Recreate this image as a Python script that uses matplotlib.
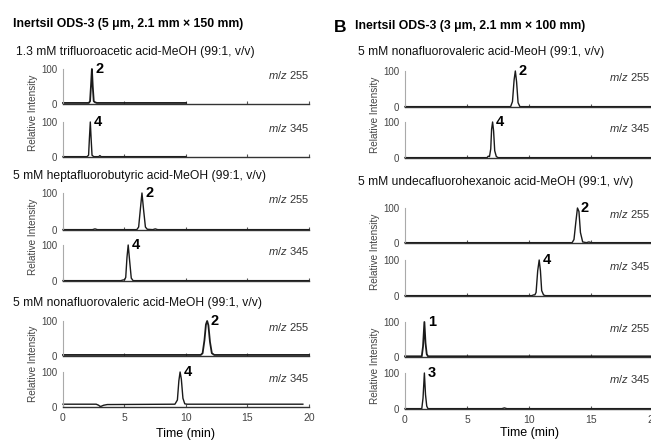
import matplotlib
matplotlib.use("Agg")
import matplotlib.pyplot as plt

plt.rcParams['font.family'] = ['Liberation Sans', 'DejaVu Sans']
plt.rcParams['mathtext.fontset'] = 'custom'
plt.rcParams['mathtext.it'] = 'Liberation Sans:italic'
plt.rcParams['mathtext.rm'] = 'Liberation Sans'

W, H = 651, 448

# ---- traces: time (min) and relative intensity ----
# column A, 150 mm
tfa_255_t = [0, 2.1, 2.2, 2.28, 2.35, 2.42, 2.5, 2.6, 2.75, 10.0]
tfa_255_y = [3, 3, 8, 55, 100, 50, 8, 5, 3, 3]
tfa_345_t = [0, 1.95, 2.08, 2.15, 2.22, 2.29, 2.36, 2.5, 2.9, 3.0, 3.1, 10.0]
tfa_345_y = [1, 1, 5, 55, 100, 50, 5, 1, 1, 4, 1, 1]

hfba_255_t = [0, 2.4, 2.6, 2.8, 6.0, 6.15, 6.3, 6.42, 6.55, 6.7, 6.85, 7.3, 7.5, 7.7, 20]
hfba_255_y = [1, 1, 3, 1, 1, 8, 60, 100, 55, 8, 2, 1, 3, 1, 1]
hfba_345_t = [0, 4.7, 4.9, 5.0, 5.1, 5.2, 5.3, 5.42, 5.55, 5.7, 20]
hfba_345_y = [1, 1, 3, 3, 10, 65, 100, 55, 8, 1, 1]

nfpa_a_255_t = [0, 11.2, 11.35, 11.5, 11.62, 11.72, 11.82, 11.95, 12.1, 12.3, 20]
nfpa_a_255_y = [3, 3, 8, 45, 90, 100, 88, 40, 8, 3, 3]
nfpa_a_345_t = [0, 2.7, 2.9, 3.0, 3.1, 3.3, 3.6, 9.1, 9.3, 9.42, 9.52, 9.62, 9.75, 9.9, 10.1, 19.5]
nfpa_a_345_y = [8, 8, 5, 2, 2, 5, 7, 8, 20, 75, 100, 80, 25, 9, 8, 8]

# column B, 100 mm
nfpa_b_255_t = [0, 8.5, 8.65, 8.78, 8.88, 8.98, 9.1, 9.25, 20]
nfpa_b_255_y = [1, 1, 15, 75, 100, 70, 12, 1, 1]
nfpa_b_345_t = [0, 6.6, 6.7, 6.8, 6.9, 6.97, 7.05, 7.13, 7.22, 7.35, 7.5, 20]
nfpa_b_345_y = [1, 1, 5, 4, 25, 80, 100, 75, 20, 4, 1, 1]

udfha_255_t = [0, 13.45, 13.6, 13.75, 13.88, 14.0, 14.12, 14.3, 14.6, 14.8, 15.0, 20]
udfha_255_y = [1, 1, 10, 60, 100, 90, 30, 3, 1, 3, 1, 1]
udfha_345_t = [0, 10.2, 10.35, 10.45, 10.55, 10.68, 10.8, 10.9, 11.0, 11.15, 11.3, 20]
udfha_345_y = [1, 1, 3, 3, 10, 70, 100, 70, 15, 3, 1, 1]

early_255_t = [0, 1.35, 1.45, 1.56, 1.65, 1.75, 1.85, 20]
early_255_y = [2, 2, 30, 100, 40, 8, 2, 2]
early_345_t = [0, 1.35, 1.45, 1.56, 1.65, 1.75, 1.85, 7.8, 8.0, 8.2, 20]
early_345_y = [1, 1, 30, 100, 40, 8, 1, 1, 3, 1, 1]

peak_labels = ['2', '4', '2', '4', '2', '4', '2', '4', '2', '4', '1', '3']
mz_labels = ['255', '345'] * 6
x_ticks = [0, 5, 10, 15, 20]
# traces whose baseline is drawn heavier (noisy) in the original
heavy = [0, 4, 10]

fig = plt.figure(figsize=(W / 100, H / 100), dpi=100)


def add_panel(x0, x1, ytop, ybot, t, y, peak, mz, mz_x, lw=1.0, last=False):
    ax = fig.add_axes([x0 / W, 1 - ybot / H, (x1 - x0) / W, (ybot - ytop) / H])
    ax.plot(t, y, color='#1a1a1a', lw=lw, clip_on=False)
    ax.set_xlim(0, 20)
    ax.set_ylim(0, 100)
    for s in ['top', 'right']:
        ax.spines[s].set_visible(False)
    ax.spines['left'].set_color('#aaaaaa')
    ax.spines['bottom'].set_color('#333333')
    ax.spines['left'].set_linewidth(0.8)
    ax.spines['bottom'].set_linewidth(1.0)
    ax.set_yticks([0, 100])
    ax.tick_params(axis='y', length=0, pad=4, labelsize=7, labelcolor='#444444')
    ax.set_xticks(x_ticks)
    ax.tick_params(axis='x', direction='in', length=2, color='#555555',
                   labelsize=7.5, labelcolor='#444444', pad=4, labelbottom=last)
    i = max(range(len(y)), key=lambda k: y[k])
    ax.annotate(peak, xy=(t[i], 100), xytext=(2.5, 0), textcoords='offset points',
                ha='left', va='center', fontsize=10.5, fontweight='bold',
                annotation_clip=False)
    fig.text(mz_x / W, 1 - (ytop + 6) / H, r'$\mathit{m/z}$ ' + mz, ha='right',
             va='center', fontsize=8, color='#333333')
    return ax


LX0, LX1 = 63, 309
RX0, RX1 = 405, 653.5

left_rows = [(69, 104), (122, 157), (193, 230), (245, 281), (321, 356), (372, 407)]
right_rows = [(71, 107), (122, 158), (208, 243), (260, 296), (322, 357), (373, 409)]

left_data = [(tfa_255_t, tfa_255_y), (tfa_345_t, tfa_345_y),
             (hfba_255_t, hfba_255_y), (hfba_345_t, hfba_345_y),
             (nfpa_a_255_t, nfpa_a_255_y), (nfpa_a_345_t, nfpa_a_345_y)]
right_data = [(nfpa_b_255_t, nfpa_b_255_y), (nfpa_b_345_t, nfpa_b_345_y),
              (udfha_255_t, udfha_255_y), (udfha_345_t, udfha_345_y),
              (early_255_t, early_255_y), (early_345_t, early_345_y)]

for k, ((yt, yb), (t, y)) in enumerate(zip(left_rows, left_data)):
    add_panel(LX0, LX1, yt, yb, t, y, peak_labels[k], mz_labels[k], 309,
              lw=1.3 if k in heavy else 1.0, last=(k == 5))
for k, ((yt, yb), (t, y)) in enumerate(zip(right_rows, right_data)):
    add_panel(RX0, RX1, yt, yb, t, y, peak_labels[6 + k], mz_labels[k], 650,
              lw=1.3 if 6 + k in heavy else 1.0, last=(k == 5))

# titles
fig.text(13 / W, 1 - 24 / H, 'Inertsil ODS-3 (5 \u03bcm, 2.1 mm \u00d7 150 mm)',
         fontsize=8.8, fontweight='bold', va='center')
fig.text(334 / W, 1 - 27 / H, 'B', fontsize=12.5, fontweight='bold', va='center')
fig.text(355 / W, 1 - 26 / H, 'Inertsil ODS-3 (3 \u03bcm, 2.1 mm \u00d7 100 mm)',
         fontsize=8.8, fontweight='bold', va='center')

subtitles_left = [(16, 52, '1.3 mM trifluoroacetic acid-MeOH (99:1, v/v)'),
                  (13, 176, '5 mM heptafluorobutyric acid-MeOH (99:1, v/v)'),
                  (13, 303, '5 mM nonafluorovaleric acid-MeOH (99:1, v/v)')]
subtitles_right = [(358, 52, '5 mM nonafluorovaleric acid-MeoH (99:1, v/v)'),
                   (358, 182, '5 mM undecafluorohexanoic acid-MeOH (99:1, v/v)')]
for x, y, s in subtitles_left + subtitles_right:
    fig.text(x / W, 1 - y / H, s, fontsize=8.7, va='center', color='#111111')

# y labels spanning each pair
for x, rows in [(33, left_rows), (375, right_rows)]:
    for j in range(3):
        yc = (rows[2 * j][0] + rows[2 * j + 1][1]) / 2
        fig.text(x / W, 1 - yc / H, 'Relative Intensity', rotation=90,
                 ha='center', va='center', fontsize=7.2, color='#444444')

fig.text(186 / W, 1 - 434 / H, 'Time (min)', ha='center', va='center', fontsize=9)
fig.text(529 / W, 1 - 433 / H, 'Time (min)', ha='center', va='center', fontsize=9)

fig.savefig('out.png', dpi=100)
